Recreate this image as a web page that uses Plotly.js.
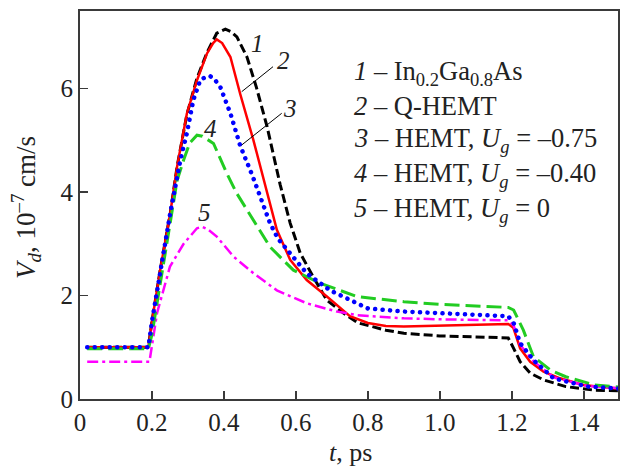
<!DOCTYPE html>
<html>
<head>
<meta charset="utf-8">
<script src="https://cdn.plot.ly/plotly-3.0.1.min.js"></script>
<style>html,body{margin:0;padding:0;background:#fff;}#chart{width:621px;height:466px;}</style>
</head>
<body>
<div id="chart"></div>
<script>
// Curve 1 – In0.2Ga0.8As (black dashed)
const t1 = [0.02,0.19,0.2,0.223,0.251,0.27,0.297,0.325,0.353,0.38,0.404,0.42,0.436,0.464,0.49,0.52,0.556,0.584,0.612,0.648,0.686,0.732,0.773,0.8,0.85,0.9,1.0,1.1,1.19,1.205,1.223,1.251,1.288,1.35,1.43,1.5];
const v1 = [1.0,1.0,1.5,2.5,3.6,4.5,5.5,6.2,6.7,7.07,7.15,7.1,7.0,6.61,6.03,5.26,4.15,3.4,2.82,2.36,1.91,1.66,1.47,1.42,1.33,1.27,1.22,1.2,1.18,0.98,0.72,0.5,0.37,0.24,0.17,0.16];
// Curve 2 – Q-HEMT (red solid)
const t2 = [0.02,0.19,0.2,0.223,0.251,0.27,0.297,0.325,0.353,0.37,0.38,0.395,0.418,0.445,0.482,0.51,0.547,0.584,0.63,0.686,0.75,0.8,0.85,0.9,1.0,1.1,1.19,1.204,1.223,1.251,1.288,1.334,1.399,1.45,1.5];
const v2 = [1.0,1.0,1.5,2.5,3.6,4.5,5.52,6.16,6.68,6.88,6.95,6.88,6.61,5.9,5.0,4.25,3.27,2.69,2.3,1.98,1.6,1.47,1.41,1.4,1.42,1.44,1.45,1.38,0.98,0.72,0.53,0.4,0.27,0.23,0.2];
// Curve 3 – HEMT, Ug = -0.75 (blue dotted)
const t3 = [0.02,0.19,0.2,0.223,0.251,0.279,0.297,0.315,0.334,0.35,0.362,0.375,0.39,0.418,0.445,0.48,0.5,0.528,0.55,0.575,0.63,0.695,0.77,0.8,0.9,1.0,1.1,1.19,1.205,1.223,1.26,1.316,1.41,1.5];
const v3 = [1.0,1.0,1.5,2.5,3.6,4.62,5.14,5.78,6.16,6.23,6.24,6.17,6.03,5.52,4.9,4.3,3.9,3.4,3.1,2.88,2.43,2.1,1.85,1.75,1.69,1.66,1.63,1.6,1.47,1.08,0.75,0.4,0.24,0.2];
// Curve 4 – HEMT, Ug = -0.40 (green long dash)
const t4 = [0.02,0.19,0.2,0.23,0.26,0.27,0.288,0.305,0.325,0.34,0.371,0.408,0.436,0.482,0.528,0.593,0.667,0.77,0.9,1.0,1.1,1.19,1.205,1.232,1.26,1.307,1.35,1.43,1.5];
const v4 = [0.97,0.97,1.25,2.5,3.8,4.23,4.62,4.95,5.1,5.08,4.94,4.36,3.97,3.46,2.94,2.49,2.24,1.98,1.88,1.83,1.8,1.77,1.72,1.33,0.82,0.56,0.43,0.27,0.23];
// Curve 5 – HEMT, Ug = 0 (magenta dash-dot)
const t5 = [0.02,0.193,0.214,0.25,0.288,0.325,0.339,0.355,0.38,0.427,0.482,0.547,0.63,0.714,0.77,0.9,1.0,1.1,1.19,1.205,1.223,1.26,1.316,1.41,1.5];
const v5 = [0.72,0.72,1.66,2.56,3.0,3.3,3.33,3.28,3.14,2.75,2.43,2.1,1.85,1.69,1.62,1.56,1.54,1.53,1.52,1.42,1.05,0.73,0.42,0.25,0.21];

const xTickVals = [0,0.2,0.4,0.6,0.8,1.0,1.2,1.4];
const xTickText = ['0','0.2','0.4','0.6','0.8','1.0','1.2','1.4'];
const yTickVals = [0,2,4,6];
const yTickText = ['0','2','4','6'];

const legendLines = [
  '<i>1</i> – In<sub>0.2</sub>Ga<sub>0.8</sub>As',
  '<i>2</i> – Q-HEMT',
  '<i>3</i> – HEMT, <i>U<sub>g</sub></i> = –0.75',
  '<i>4</i> – HEMT, <i>U<sub>g</sub></i> = –0.40',
  '<i>5</i> – HEMT, <i>U<sub>g</sub></i> = 0'
];
const curveLabels = ['1','2','3','4','5'];

const FONT = 'Liberation Serif, Times New Roman, serif';
const TXT = '#222';

const traces = [
  {x:t1, y:v1, mode:'lines', line:{color:'#000000', width:3, dash:'9px,4px'}},
  {x:t2, y:v2, mode:'lines', line:{color:'#ff0000', width:2.5}},
  {x:t5, y:v5, mode:'lines', line:{color:'#ff00ff', width:2.5, dash:'11px,4px,3px,4px'}},
  {x:t4, y:v4, mode:'lines', line:{color:'#22cc22', width:3, dash:'15px,6px'}},
  {x:t3, y:v3, mode:'lines', line:{color:'#0000ff', width:4.5, dash:'0.1px,7.4px'}}
];

const PL = 80, PR = 618, PT = 11, PB = 399;
function px(xp){ return (xp-PL)/(PR-PL); }
function py(yp){ return (PB-yp)/(PB-PT); }

const annotations = [];
const legY = [73,106,140,175,210];
legendLines.forEach((s,i)=>{
  annotations.push({xref:'paper', yref:'paper', x:px(352), y:py(legY[i]), xanchor:'left', yanchor:'middle',
    text:s, showarrow:false, font:{family:FONT, size:26.5, color:TXT}});
});
const labPos = [[257,43],[283,61],[290,108],[210,128],[204,213]];
curveLabels.forEach((s,i)=>{
  annotations.push({xref:'paper', yref:'paper', x:px(labPos[i][0]), y:py(labPos[i][1]), xanchor:'center', yanchor:'middle',
    text:'<i>'+s+'</i>', showarrow:false, font:{family:FONT, size:25, color:TXT}});
});
annotations.push({xref:'paper', yref:'paper', x:px(26), y:py(208), xanchor:'center', yanchor:'middle', textangle:-90,
  text:'<i>V<sub>d</sub></i>, 10<sup>–7</sup> cm/s', showarrow:false, font:{family:FONT, size:27, color:TXT}});
annotations.push({xref:'paper', yref:'paper', x:px(350), y:py(452), xanchor:'center', yanchor:'middle',
  text:'<i>t</i>, ps', showarrow:false, font:{family:FONT, size:26, color:TXT}});

const shapes = [
  {type:'line', xref:'paper', yref:'paper', x0:px(273), y0:py(66.7), x1:px(241.7), y1:py(91.7), line:{color:'#000', width:1}},
  {type:'line', xref:'paper', yref:'paper', x0:px(281.7), y0:py(113.3), x1:px(241.7), y1:py(145), line:{color:'#000', width:1}}
];

const axisCommon = {
  showgrid:false, zeroline:false, showline:true, linecolor:'#3a3a3a', linewidth:2, mirror:true,
  ticks:'inside', ticklen:8, tickwidth:1.5, tickcolor:'#3a3a3a',
  tickfont:{family:FONT, size:25, color:TXT}
};

const layout = {
  width:621, height:466,
  margin:{l:PL, r:621-PR, t:PT, b:466-PB, pad:0},
  paper_bgcolor:'#fff', plot_bgcolor:'#fff',
  showlegend:false,
  xaxis:Object.assign({}, axisCommon, {range:[0,1.495], tickvals:xTickVals, ticktext:xTickText}),
  yaxis:Object.assign({}, axisCommon, {range:[0,7.5], tickvals:yTickVals, ticktext:yTickText}),
  annotations:annotations,
  shapes:shapes
};

Plotly.newPlot('chart', traces, layout, {staticPlot:true}).then(()=>{
  const tr = document.querySelectorAll('.scatterlayer .trace');
  const blue = tr[tr.length-1];
  if (blue) blue.querySelectorAll('path.js-line').forEach(p=>{ p.style.strokeLinecap='round'; });
});
</script>
</body>
</html>
